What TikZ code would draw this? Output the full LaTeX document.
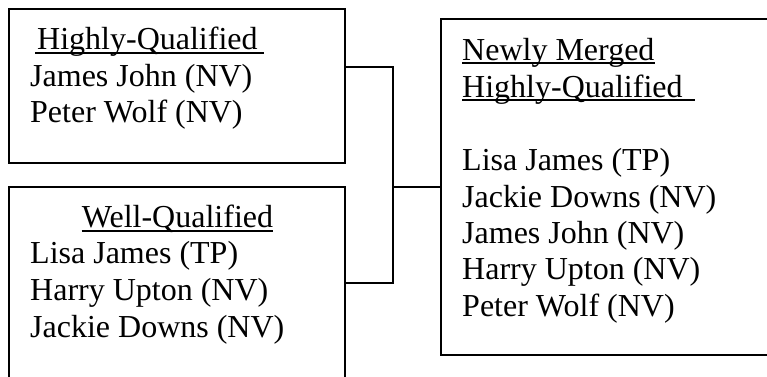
\documentclass[tikz,border=0pt]{standalone}
\usepackage{fontspec}
\setmainfont{Liberation Serif}
\begin{document}
\begin{tikzpicture}[x=1pt,y=-1pt,
  box/.style={draw=black,line width=1.6pt,inner sep=0pt,rectangle},
  txt/.style={anchor=base west,inner sep=0pt,font=\fontsize{32}{36}\selectfont},
  ctxt/.style={txt,anchor=base},
  uline/.style={line width=1.4pt},
  conn/.style={line width=1.6pt}]
\useasboundingbox (0,0) rectangle (767,376);
% boxes
\node[box,minimum width=336pt,minimum height=154pt] (hq) at (177,86) {};
\node[box,minimum width=336pt,minimum height=240pt] (wq) at (177,307) {};
\node[box,minimum width=360pt,minimum height=336pt] (mg) at (621,187) {};
% connectors
\coordinate (j) at (393,187);
\draw[conn] ([yshift=19pt]hq.east) -| (j);
\draw[conn] ([yshift=24pt]wq.east) -| (j);
\draw[conn] (j) -- (mg.west);
% box 1 text
\node[txt] (h1) at (37,49) {Highly-Qualified};
\draw[uline] ([xshift=-2pt,yshift=-4pt]h1.base west) -- ([xshift=6pt,yshift=-4pt]h1.base east);
\node[txt] (a1) at (30,86) {James John (NV)};
\node[txt] (a2) at (30,122) {Peter Wolf (NV)};
% box 2 text
\node[ctxt] (h2) at (177.5,227) {Well-Qualified};
\draw[uline] ([yshift=-4pt]h2.base west) -- ([yshift=-4pt]h2.base east);
\node[txt] (b1) at (30,263) {Lisa James (TP)};
\node[txt] (b2) at (30,300) {Harry Upton (NV)};
\node[txt] (b3) at (30,337) {Jackie Downs (NV)};
% box 3 text
\node[txt] (h3) at (462,60) {Newly Merged};
\draw[uline] ([yshift=-3pt]h3.base west) -- ([yshift=-3pt]h3.base east);
\node[txt] (h4) at (462,97) {Highly-Qualified};
\draw[uline] ([yshift=-3pt]h4.base west) -- ([xshift=12pt,yshift=-3pt]h4.base east);
\node[txt] (c1) at (462,170) {Lisa James (TP)};
\node[txt] (c2) at (462,207) {Jackie Downs (NV)};
\node[txt] (c3) at (462,243) {James John (NV)};
\node[txt] (c4) at (462,279) {Harry Upton (NV)};
\node[txt] (c5) at (462,316) {Peter Wolf (NV)};
\end{tikzpicture}
\end{document}
